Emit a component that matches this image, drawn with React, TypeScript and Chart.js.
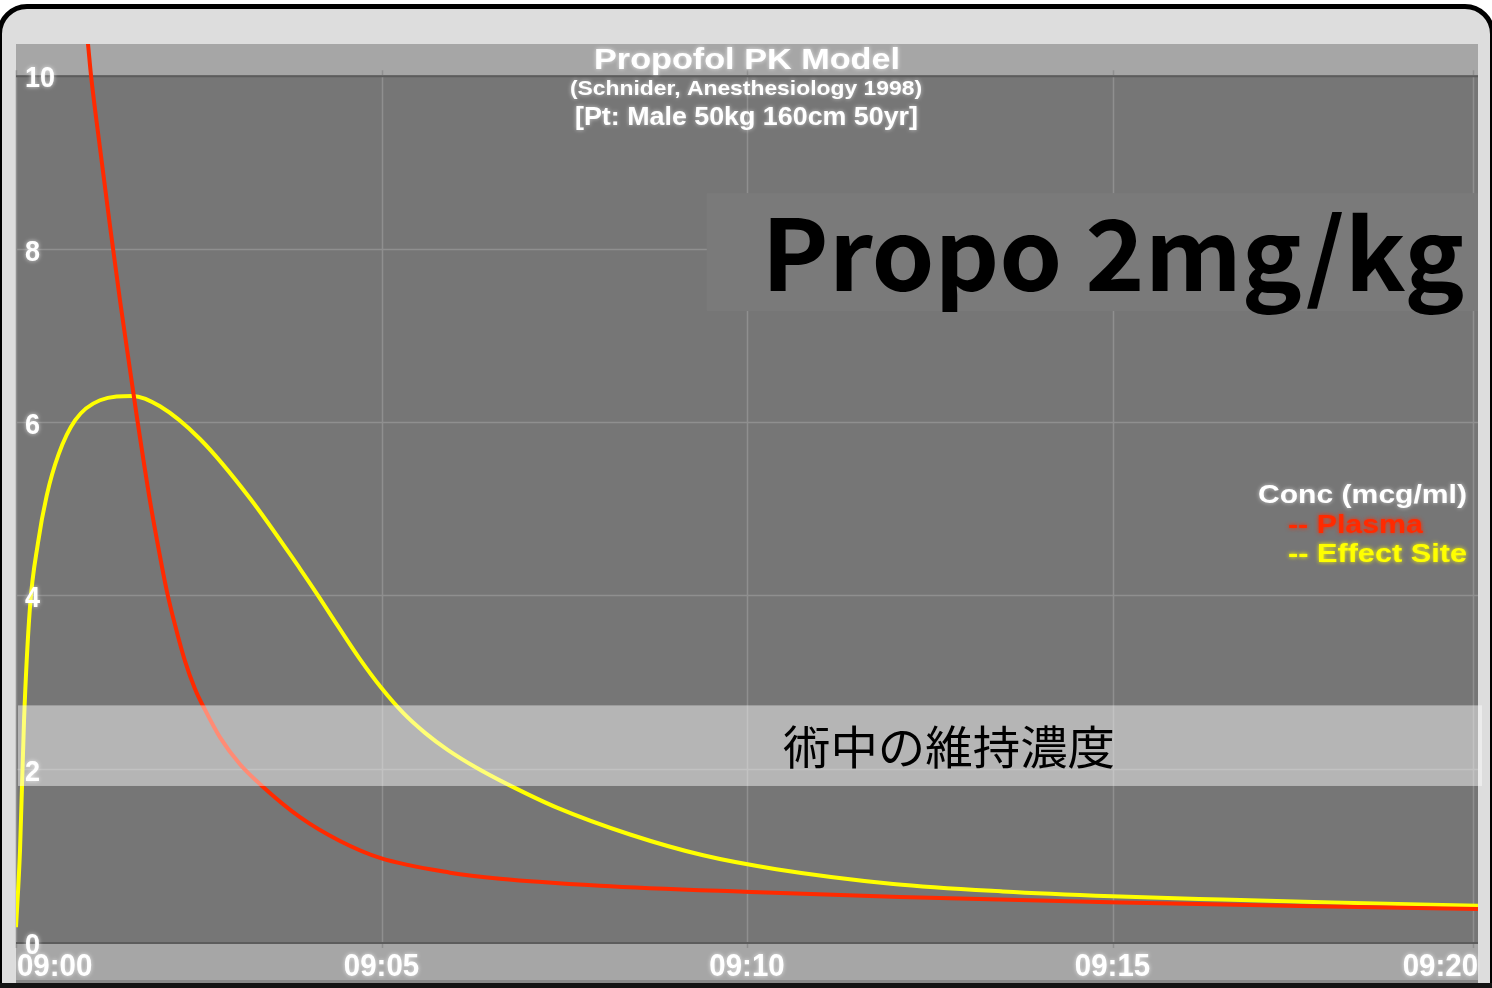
import React, { useEffect, useRef } from "react";
import { Chart, registerables } from "chart.js";

Chart.register(...registerables);

// ---- Data (minutes after 09:00, concentration mcg/ml) ----
const plasmaTimes = [0, 0.5, 0.985, 1.026, 1.149, 1.286, 1.423, 1.56, 1.655, 1.833, 1.97, 2.066, 2.175, 2.312, 2.449, 2.585, 2.791, 3.064, 3.365, 3.885, 4.432, 4.979, 5.937, 6.621, 7.989, 9.959, 12.093, 14.952, 17.565, 20];
const plasmaConc = [21.0, 14.2, 10.36, 10.0, 9.16, 8.26, 7.4, 6.6, 6.05, 5.09, 4.45, 4.04, 3.66, 3.24, 2.92, 2.68, 2.36, 2.05, 1.8, 1.44, 1.165, 0.97, 0.8, 0.73, 0.65, 0.58, 0.52, 0.46, 0.415, 0.38];

const effectTimes = [0, 0.055, 0.11, 0.19, 0.3, 0.42, 0.58, 0.81, 1.15, 1.6, 1.97, 2.52, 3.2, 3.89, 4.13, 4.4, 4.7, 5.0, 5.3, 5.6, 5.9, 6.3, 6.7, 7.4, 8.4, 9.4, 10.4, 12.0, 13.5, 15.0, 16.5, 18.0, 20];
const effectConc = [0.17, 1.06, 2.56, 3.85, 4.6, 5.15, 5.62, 6.02, 6.25, 6.3, 6.18, 5.8, 5.12, 4.3, 4.0, 3.65, 3.27, 2.93, 2.64, 2.41, 2.22, 2.01, 1.83, 1.55, 1.24, 1.0, 0.84, 0.67, 0.584, 0.528, 0.49, 0.457, 0.417];

const xTickValues = [0, 5, 10, 15, 20];
const xTickLabels = ["09:00", "09:05", "09:10", "09:15", "09:20"];
const yTickValues = [0, 2, 4, 6, 8, 10];
const yTickLabels = ["0", "2", "4", "6", "8", "10"];

const seriesLabels = ["Plasma", "Effect Site"];
const seriesColors = ["#ff2a00", "#ffff00"];

const titleLines = ["Propofol PK Model", "(Schnider, Anesthesiology 1998)", "[Pt: Male 50kg 160cm 50yr]"];
const legendTitle = "Conc (mcg/ml)";
const doseText = "Propo 2mg/kg";
const bandText = "術中の維持濃度";
const bandRange = [1.8, 2.73];
const doseBox = { t0: 9.45, t1: 20, c0: 7.28, c1: 8.64 };

const SANS = '"Liberation Sans", Arial, Helvetica, sans-serif';
const CJK = '"Noto Sans CJK JP", "Noto Sans CJK SC", sans-serif';

function drawScaled(
  ctx: CanvasRenderingContext2D,
  text: string,
  x: number,
  y: number,
  font: string,
  sx: number,
  align: CanvasTextAlign,
  color: string,
  glow?: string
) {
  ctx.save();
  ctx.font = font;
  ctx.translate(x, y);
  ctx.scale(sx, 1);
  ctx.textAlign = align;
  ctx.textBaseline = "alphabetic";
  ctx.fillStyle = color;
  if (glow) {
    ctx.shadowColor = glow;
    ctx.shadowBlur = 4;
  }
  ctx.fillText(text, 0, 0);
  ctx.restore();
}

function drawFit(
  ctx: CanvasRenderingContext2D,
  text: string,
  x: number,
  y: number,
  font: string,
  targetW: number,
  align: CanvasTextAlign,
  color: string,
  glow?: string
) {
  ctx.save();
  ctx.font = font;
  const w = ctx.measureText(text).width || 1;
  ctx.restore();
  drawScaled(ctx, text, x, y, font, targetW / w, align, color, glow);
}

const pkPlugin = {
  id: "pkDecor",
  beforeDraw(chart: any) {
    const { ctx, chartArea, scales } = chart;
    const ys = scales.y;
    const y10 = ys.getPixelForValue(10);
    const y0 = ys.getPixelForValue(0);
    const L = chartArea.left;
    const R = chartArea.right;
    ctx.save();
    ctx.fillStyle = "#a6a6a6";
    ctx.fillRect(L, chartArea.top, R - L, y10 - chartArea.top);
    ctx.fillStyle = "#767676";
    ctx.fillRect(L, y10, R - L, y0 - y10);
    ctx.fillStyle = "#a6a6a6";
    ctx.fillRect(L, y0, R - L, 980 - y0);
    ctx.fillStyle = "#8a8a8a";
    ctx.fillRect(L, 980, R - L, 3);
    ctx.restore();
  },
  beforeDatasetsDraw(chart: any) {
    const { ctx, chartArea, scales } = chart;
    const xs = scales.x;
    const ys = scales.y;
    const y10 = ys.getPixelForValue(10);
    const y0 = ys.getPixelForValue(0);
    ctx.save();
    // horizontal grid
    ctx.strokeStyle = "#8f8f8f";
    ctx.lineWidth = 1.5;
    yTickValues.forEach((v) => {
      if (v === 0 || v === 10) return;
      const py = Math.round(ys.getPixelForValue(v)) + 0.5;
      ctx.beginPath();
      ctx.moveTo(chartArea.left, py);
      ctx.lineTo(chartArea.right, py);
      ctx.stroke();
    });
    // vertical grid
    xTickValues.forEach((v) => {
      let px = Math.round(xs.getPixelForValue(v)) + 0.5;
      if (px > chartArea.right - 3) px = chartArea.right - 4.5;
      ctx.beginPath();
      ctx.moveTo(px, y10 - 5);
      ctx.lineTo(px, y0 + 6);
      ctx.stroke();
    });
    // border lines
    ctx.strokeStyle = "#5c5c5c";
    ctx.lineWidth = 2;
    [y10, y0].forEach((py) => {
      ctx.beginPath();
      ctx.moveTo(chartArea.left, py + 1);
      ctx.lineTo(chartArea.right, py + 1);
      ctx.stroke();
    });
    // dose box
    ctx.fillStyle = "#7a7a7a";
    const bx0 = xs.getPixelForValue(doseBox.t0);
    const bx1 = xs.getPixelForValue(doseBox.t1);
    const by0 = ys.getPixelForValue(doseBox.c1);
    const by1 = ys.getPixelForValue(doseBox.c0);
    ctx.fillRect(bx0, by0, bx1 - bx0, by1 - by0);
    ctx.restore();
  },
  afterDatasetsDraw(chart: any) {
    const { ctx, chartArea, scales } = chart;
    const xs = scales.x;
    const ys = scales.y;
    ctx.save();
    // maintenance band (translucent over curves)
    const bTop = ys.getPixelForValue(bandRange[1]);
    const bBot = ys.getPixelForValue(bandRange[0]);
    ctx.fillStyle = "rgba(255,255,255,0.46)";
    ctx.fillRect(chartArea.left + 2, bTop, chartArea.right - chartArea.left + 2, bBot - bTop);
    drawFit(ctx, bandText, 949, 764, `400 46px ${CJK}`, 332, "center", "#000");

    // dose text
    drawFit(ctx, doseText, 1113, 291, `700 98px ${CJK}`, 703, "center", "#000");

    // title
    drawFit(ctx, titleLines[0], 747, 69, `700 29px ${SANS}`, 306, "center", "#ffffff", "rgba(255,255,255,0.7)");
    drawFit(ctx, titleLines[1], 746, 95, `700 21px ${SANS}`, 352, "center", "#ffffff", "rgba(255,255,255,0.6)");
    drawFit(ctx, titleLines[2], 746.5, 125, `700 25px ${SANS}`, 343, "center", "#ffffff", "rgba(255,255,255,0.6)");

    // legend
    drawFit(ctx, legendTitle, 1467, 503, `700 26px ${SANS}`, 209, "right", "#ffffff", "rgba(255,255,255,0.6)");
    const ds = chart.data.datasets;
    drawFit(ctx, `-- ${ds[0].label}`, 1288, 533, `700 26px ${SANS}`, 135, "left", ds[0].borderColor, ds[0].borderColor);
    drawFit(ctx, `-- ${ds[1].label}`, 1288, 562, `700 26px ${SANS}`, 179, "left", ds[1].borderColor, ds[1].borderColor);

    // y tick labels (inside plot)
    yTickValues.forEach((v, i) => {
      const py = ys.getPixelForValue(v);
      drawScaled(ctx, yTickLabels[i], chartArea.left + 9, py + 12, `700 30px ${SANS}`, 0.9, "left", "#ffffff", "rgba(255,255,255,0.7)");
    });
    // x tick labels
    xTickValues.forEach((v, i) => {
      const px = xs.getPixelForValue(v);
      const align: CanvasTextAlign = i === 0 ? "left" : i === xTickValues.length - 1 ? "right" : "center";
      drawScaled(ctx, xTickLabels[i], px + (i === 0 ? 1 : 0), 976, `700 32px ${SANS}`, 0.92, align, "#ffffff", "rgba(255,255,255,0.7)");
    });
    ctx.restore();
  },
};

export default function App() {
  const canvasRef = useRef<HTMLCanvasElement | null>(null);

  useEffect(() => {
    const canvas = canvasRef.current;
    if (!canvas) return;
    const chart = new Chart(canvas, {
      type: "line",
      data: {
        datasets: [
          {
            label: seriesLabels[0],
            data: plasmaTimes.map((t, i) => ({ x: t, y: plasmaConc[i] })),
            borderColor: seriesColors[0],
            borderWidth: 4,
            pointRadius: 0,
            cubicInterpolationMode: "monotone",
            fill: false,
          },
          {
            label: seriesLabels[1],
            data: effectTimes.map((t, i) => ({ x: t, y: effectConc[i] })),
            borderColor: seriesColors[1],
            borderWidth: 4,
            pointRadius: 0,
            cubicInterpolationMode: "monotone",
            fill: false,
          },
        ],
      },
      options: {
        animation: false,
        responsive: false,
        maintainAspectRatio: false,
        devicePixelRatio: 1,
        layout: { padding: { left: 16, right: 14, top: 44, bottom: 46 } },
        plugins: {
          legend: { display: false },
          title: { display: false },
          tooltip: { enabled: false },
        },
        scales: {
          x: {
            type: "linear",
            min: 0,
            max: 20,
            ticks: { display: false, stepSize: 5 },
            grid: { display: false, drawTicks: false },
            border: { display: false },
          },
          y: {
            type: "linear",
            min: 0,
            max: 10.36,
            ticks: { display: false, stepSize: 2, includeBounds: false },
            grid: { display: false, drawTicks: false },
            border: { display: false },
          },
        },
      },
      plugins: [pkPlugin],
    } as any);
    return () => chart.destroy();
  }, []);

  return (
    <div style={{ position: "fixed", left: 0, top: 0, width: 1492, height: 988, background: "#ffffff", overflow: "hidden" }}>
      <div
        style={{
          position: "absolute",
          left: -3,
          top: 4,
          width: 1498,
          height: 1100,
          boxSizing: "border-box",
          border: "5px solid #000",
          borderRadius: 30,
          background: "#dddddd",
        }}
      />
      <div style={{ position: "absolute", left: 0, top: 983, width: 1492, height: 5, background: "#141414" }} />
      <canvas ref={canvasRef} width={1492} height={988} style={{ position: "absolute", left: 0, top: 0, width: 1492, height: 988 }} />
    </div>
  );
}
